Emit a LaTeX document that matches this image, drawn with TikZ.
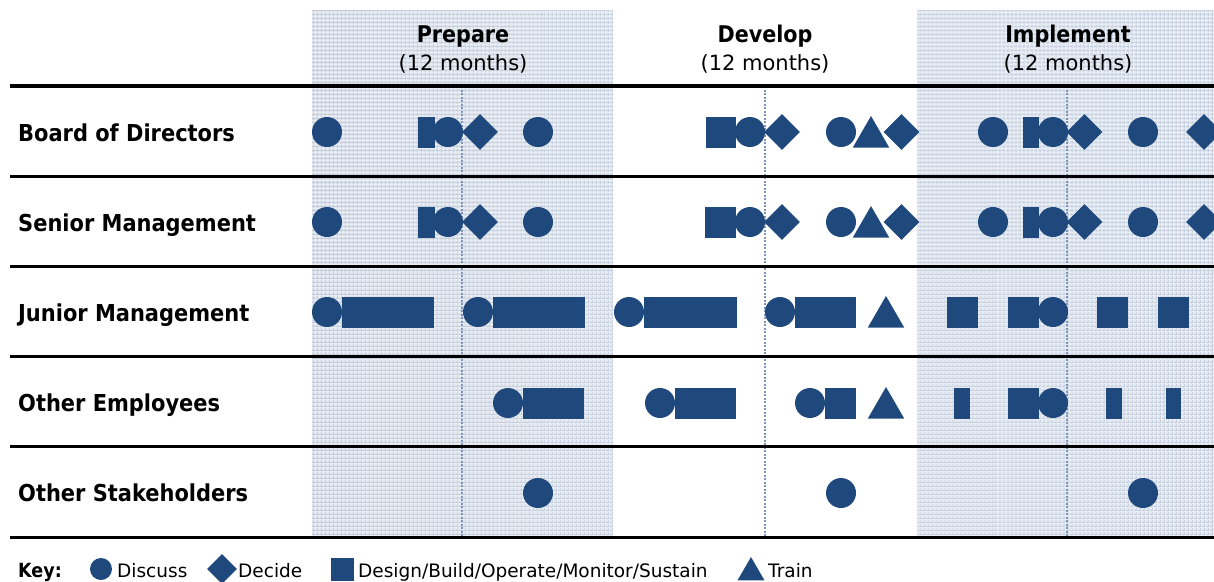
\documentclass[tikz,border=0pt]{standalone}
\usepackage{fontspec}
\setmainfont{DejaVu Sans}
\newfontfamily\labelfont{DejaVu Sans Condensed}
\usepackage{xcolor}
\usetikzlibrary{shapes.geometric,positioning,patterns.meta}

\definecolor{actblue}{HTML}{1F497D}
\definecolor{phasefill}{HTML}{E9EDF3}
\definecolor{phasegrid}{HTML}{C3CEDF}
\definecolor{midline}{HTML}{7F94B6}

\tikzset{
    discuss/.style={circle,fill=actblue,minimum size=30pt,inner sep=0pt},
    decide/.style={diamond,fill=actblue,minimum width=36pt,minimum height=36pt,inner sep=0pt},
    design/.style={rectangle,fill=actblue,minimum width=#1,minimum height=31pt,inner sep=0pt},
    design/.default=31pt,
    train/.style={regular polygon,regular polygon sides=3,fill=actblue,minimum size=42pt,inner sep=0pt,yshift=-5pt},
    phasename/.style={anchor=base,inner sep=0pt,font=\labelfont\fontsize{23}{27}\selectfont\bfseries},
    phaselen/.style={anchor=base,inner sep=0pt,font=\fontsize{21}{25}\selectfont},
    rowlabel/.style={anchor=base west,inner sep=0pt,font=\labelfont\fontsize{23.3}{27}\selectfont\bfseries},
    keytext/.style={anchor=base west,inner sep=0pt,font=\fontsize{18.5}{22}\selectfont},
    midrule/.style={midline,line width=2pt,dash pattern=on 2pt off 1.5pt},
    rowrule/.style={black,line width=3pt}
}

\begin{document}
\begin{tikzpicture}[x=1pt,y=-1pt]

\useasboundingbox (0,0) rectangle (1214,581);

% Shaded phases
\fill[phasefill] (312,10) rectangle (613,537);
\fill[phasefill] (917,10) rectangle (1214,537);
\fill[pattern={Lines[distance=4pt,line width=1.5pt]},pattern color=phasegrid]
    (312,10) rectangle (613,537)
    (917,10) rectangle (1214,537);
\fill[pattern={Lines[distance=4pt,angle=90,line width=1.5pt]},pattern color=phasegrid]
    (312,10) rectangle (613,537)
    (917,10) rectangle (1214,537);

% Mid-phase markers
\draw[midrule] (462,86) -- (462,537);
\draw[midrule] (765,86) -- (765,537);
\draw[midrule] (1067,86) -- (1067,537);

% Row rules
\draw[rowrule,line width=4pt] (10,86) -- (1214,86);
\draw[rowrule]
    (10,176) -- (1214,176)
    (10,266) -- (1214,266)
    (10,356) -- (1214,356)
    (10,446) -- (1214,446)
    (10,537) -- (1214,537);

% Phase headings
\node[phasename] (prepare) at (463,42) {Prepare};
\node[phaselen] (preparelen) at (463,70) {(12 months)};
\node[phasename] (develop) at (765,42) {Develop};
\node[phaselen] (developlen) at (765,70) {(12 months)};
\node[phasename] (implement) at (1068,42) {Implement};
\node[phaselen] (implementlen) at (1068,70) {(12 months)};

% Row labels
\node[rowlabel] (board) at (18,141) {Board of Directors};
\node[rowlabel] (senior) at (18,231) {Senior Management};
\node[rowlabel] (junior) at (18,321) {Junior Management};
\node[rowlabel] (staff) at (18,411.5) {Other Employees};
\node[rowlabel] (stake) at (18,501.5) {Other Stakeholders};

% Board of Directors
\node[design=17pt] (board2) at (426.5,132) {};
\node[discuss] (board1) at (327,132) {};
\node[discuss] (board3) at (448,132) {};
\node[decide] (board4) at (480,132) {};
\node[discuss] (board5) at (538,132) {};
\node[design=30pt] (board6) at (720.5,132) {};
\node[discuss] (board7) at (750,132) {};
\node[decide] (board8) at (782,132) {};
\node[discuss] (board9) at (841,132) {};
\node[train] (board10) at (871,132) {};
\node[decide] (board11) at (901.5,132) {};
\node[discuss] (board12) at (993,132) {};
\node[design=16pt] (board13) at (1031,132) {};
\node[discuss] (board14) at (1053,132) {};
\node[decide] (board15) at (1084.5,132) {};
\node[discuss] (board16) at (1143,132) {};
\node[decide] (board17) at (1204,132) {};

% Senior Management
\node[design=17pt] (senior2) at (426.5,222) {};
\node[discuss] (senior1) at (327,222) {};
\node[discuss] (senior3) at (448,222) {};
\node[decide] (senior4) at (480,222) {};
\node[discuss] (senior5) at (538,222) {};
\node[design] (senior6) at (720.5,222) {};
\node[discuss] (senior7) at (750,222) {};
\node[decide] (senior8) at (782,222) {};
\node[discuss] (senior9) at (841,222) {};
\node[train] (senior10) at (871,222) {};
\node[decide] (senior11) at (901.5,222) {};
\node[discuss] (senior12) at (993,222) {};
\node[design=16pt] (senior13) at (1031,222) {};
\node[discuss] (senior14) at (1053,222) {};
\node[decide] (senior15) at (1084.5,222) {};
\node[discuss] (senior16) at (1143,222) {};
\node[decide] (senior17) at (1204,222) {};

% Junior Management
\node[discuss] (junior1) at (327,312) {};
\node[design=92pt] (junior2) at (388,312) {};
\node[discuss] (junior3) at (478,312) {};
\node[design=92pt] (junior4) at (539,312) {};
\node[discuss] (junior5) at (629,312) {};
\node[design=93pt] (junior6) at (690.5,312) {};
\node[discuss] (junior7) at (780,312) {};
\node[design=61pt] (junior8) at (825.5,312) {};
\node[train] (junior9) at (886,312) {};
\node[design] (junior10) at (962.5,312) {};
\node[design] (junior11) at (1023.5,312) {};
\node[discuss] (junior12) at (1053,312) {};
\node[design] (junior13) at (1112.5,312) {};
\node[design] (junior14) at (1173.5,312) {};

% Other Employees
\node[discuss] (staff1) at (508,403) {};
\node[design=61pt] (staff2) at (553.5,403) {};
\node[discuss] (staff3) at (660,403) {};
\node[design=61pt] (staff4) at (705.5,403) {};
\node[discuss] (staff5) at (810,403) {};
\node[design] (staff6) at (840.5,403) {};
\node[train] (staff7) at (886,403) {};
\node[design=16pt] (staff8) at (962,403) {};
\node[design] (staff9) at (1023.5,403) {};
\node[discuss] (staff10) at (1053,403) {};
\node[design=16pt] (staff11) at (1114,403) {};
\node[design=15pt] (staff12) at (1173.5,403) {};

% Other Stakeholders
\node[discuss] (stake1) at (538,493) {};
\node[discuss] (stake2) at (841,493) {};
\node[discuss] (stake3) at (1143,493) {};

% Key
\node[keytext,font=\labelfont\fontsize{19.5}{23}\selectfont\bfseries] (keylabel) at (18,577) {Key:};
\node[discuss,minimum size=22pt] (keydiscuss) at (101,569) {};
\node[keytext] (keydiscusstext) at (117,577) {Discuss};
\node[decide,minimum width=30pt,minimum height=30pt] (keydecide) at (222,569) {};
\node[keytext] (keydecidetext) at (238,577) {Decide};
\node[design=23pt,minimum height=23pt] (keydesign) at (342,569) {};
\node[keytext] (keydesigntext) at (358,577) {Design/Build/Operate/Monitor/Sustain};
\node[train,minimum size=31pt,yshift=1.5pt] (keytrain) at (751,569) {};
\node[keytext] (keytraintext) at (768,577) {Train};

\end{tikzpicture}
\end{document}
